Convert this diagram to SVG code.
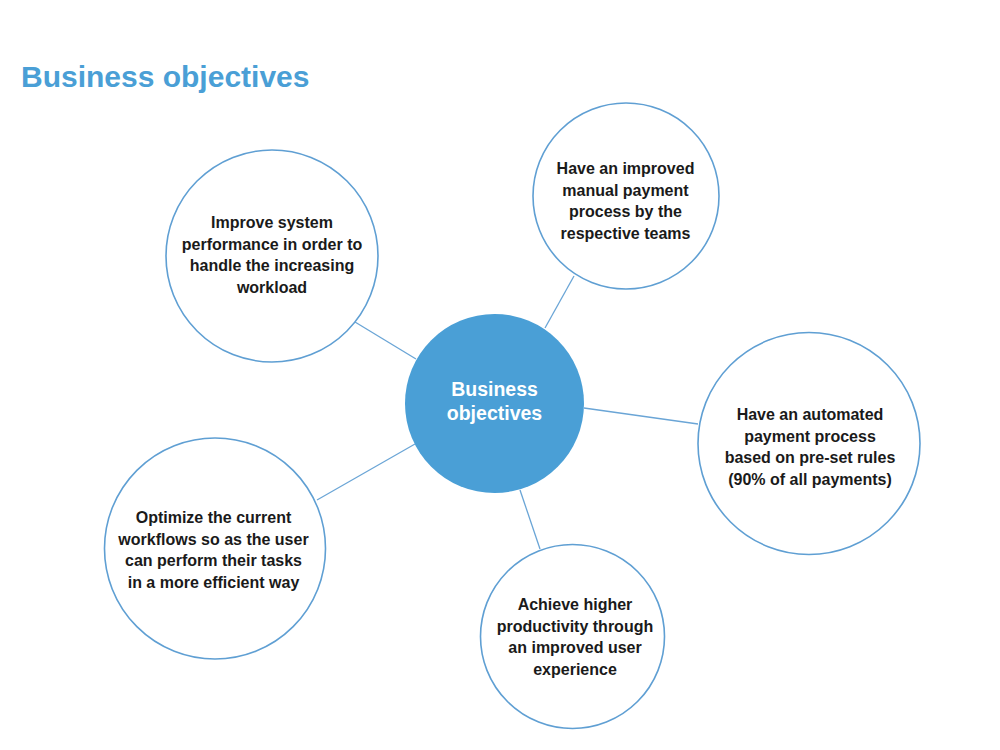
<svg xmlns="http://www.w3.org/2000/svg" width="1000" height="750" viewBox="0 0 1000 750">
  <style>
    .title { font-family: "Liberation Sans", Arial, sans-serif; font-weight: bold; font-size: 30px; fill: #4a9fd6; }
    .node circle { fill: #ffffff; stroke: #5f9fd3; stroke-width: 1.6; }
    .node text { font-family: "Liberation Sans", Arial, sans-serif; font-weight: bold; font-size: 16px; fill: #1a1a1a; text-anchor: middle; }
    .hub circle { fill: #4a9fd6; stroke: none; }
    .hub text { font-family: "Liberation Sans", Arial, sans-serif; font-weight: bold; font-size: 19.5px; fill: #ffffff; text-anchor: middle; }
    .connectors line { stroke: #6aa5d6; stroke-width: 1.3; }
  </style>
  <rect width="1000" height="750" fill="#ffffff"/>
  <text class="title" x="21" y="87">Business objectives</text>

  <g class="connectors" id="connectors">
    <line x1="355" y1="322" x2="416" y2="359"/>
    <line x1="574" y1="276" x2="545" y2="328"/>
    <line x1="584" y1="408" x2="698" y2="424"/>
    <line x1="317" y1="500" x2="415" y2="444"/>
    <line x1="520" y1="490" x2="540" y2="549"/>
  </g>

  <g class="hub" id="hub">
    <circle cx="494.5" cy="403.5" r="89.5"/>
    <text x="494.5" y="396">Business</text>
    <text x="494.5" y="420">objectives</text>
  </g>

  <g class="node" id="node-performance">
    <circle cx="272" cy="256" r="106"/>
    <text x="272" y="228">Improve system</text>
    <text x="272" y="249.5">performance in order to</text>
    <text x="272" y="271">handle the increasing</text>
    <text x="272" y="292.5">workload</text>
  </g>

  <g class="node" id="node-manual">
    <circle cx="626" cy="196" r="93"/>
    <text x="625.5" y="174">Have an improved</text>
    <text x="625.5" y="195.5">manual payment</text>
    <text x="625.5" y="217">process by the</text>
    <text x="625.5" y="238.5">respective teams</text>
  </g>

  <g class="node" id="node-automated">
    <circle cx="809" cy="443.5" r="111"/>
    <text x="810" y="420">Have an automated</text>
    <text x="810" y="441.5">payment process</text>
    <text x="810" y="463">based on pre-set rules</text>
    <text x="810" y="484.5">(90% of all payments)</text>
  </g>

  <g class="node" id="node-workflows">
    <circle cx="215" cy="548.5" r="110.5"/>
    <text x="213.5" y="523">Optimize the current</text>
    <text x="213.5" y="544.5">workflows so as the user</text>
    <text x="213.5" y="566">can perform their tasks</text>
    <text x="213.5" y="587.5">in a more efficient way</text>
  </g>

  <g class="node" id="node-productivity">
    <circle cx="572.5" cy="636.5" r="92"/>
    <text x="575" y="610">Achieve higher</text>
    <text x="575" y="631.5">productivity through</text>
    <text x="575" y="653">an improved user</text>
    <text x="575" y="674.5">experience</text>
  </g>
</svg>
